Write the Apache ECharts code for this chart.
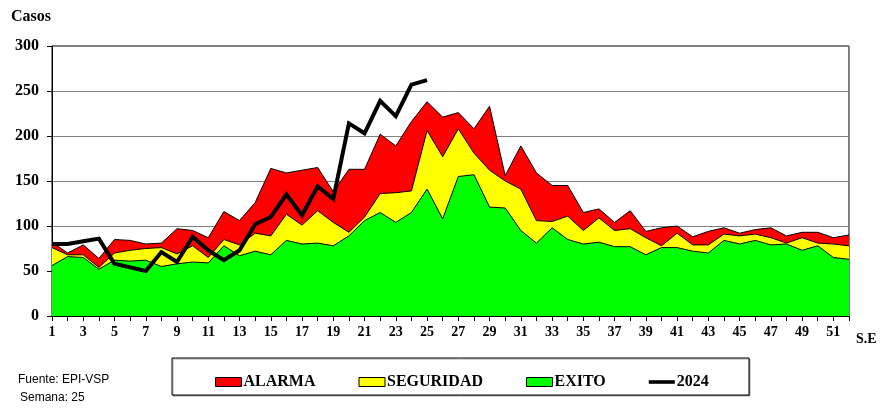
<!DOCTYPE html>
<html>
<head>
<meta charset="utf-8">
<title>Canal endémico</title>
<script src="https://cdn.jsdelivr.net/npm/echarts@6/dist/echarts.min.js"></script>
<style>
    html, body { margin: 0; padding: 0; background: #fff; }
    #chart { width: 884px; height: 410px; }
</style>
</head>
<body>
<div id="chart"></div>
<script>
// semanas epidemiologicas 1..52
var semanas = [];
for (var i = 1; i <= 52; i++) semanas.push(String(i));

// limites del canal endemico (valores acumulados)
var exito = [56, 66, 65, 52, 62, 61, 62, 55, 58, 60,
    59, 78, 67, 72, 68, 84, 80, 81, 78, 89,
    106, 115, 104, 115, 141, 108, 155, 157, 121, 120,
    95, 81, 98, 85, 80, 82, 77, 77, 68, 76,
    76, 72, 70, 84, 80, 84, 79, 80, 73, 78,
    65, 63];
var seguridad = [76, 68, 68, 54, 70, 73, 75, 76, 69, 78,
    65, 85, 79, 92, 89, 113, 101, 117, 104, 93,
    110, 136, 137, 139, 206, 177, 208, 181, 162, 150,
    141, 106, 105, 111, 95, 109, 95, 97, 87, 78,
    92, 79, 79, 91, 89, 91, 87, 81, 87, 81,
    80, 78];
var alarma = [82, 70, 79, 64, 85, 84, 80, 81, 97, 95,
    87, 116, 106, 126, 164, 159, 162, 165, 138, 163,
    163, 202, 189, 216, 238, 221, 226, 208, 233, 156,
    189, 159, 145, 145, 115, 119, 104, 117, 94, 98,
    100, 88, 94, 98, 92, 96, 98, 89, 93, 93,
    87, 90];
// casos 2024 hasta la semana 25
var casos2024 = [80, 80, 83, 86, 58, 54, 50, 71, 60, 88,
    73, 62, 73, 102, 110, 135, 112, 144, 130, 214,
    203, 239, 222, 257, 262];

var serif = '"Liberation Serif", "DejaVu Serif", serif';
var sans = '"Liberation Sans", Arial, sans-serif';

function zona(nombre, color, datos) {
    return {
        name: nombre,
        type: 'line',
        data: datos,
        color: color,
        symbol: 'none',
        lineStyle: { color: '#000', width: 1 },
        areaStyle: { color: color, opacity: 1, origin: 'start' },
        itemStyle: { color: color },
        silent: true
    };
}

var bordeLeyenda = { borderColor: '#000', borderWidth: 1 };

var chart = echarts.init(document.getElementById('chart'));
chart.setOption({
    animation: false,
    backgroundColor: '#fff',
    title: {
        text: 'Casos',
        left: 6,
        top: 4,
        textStyle: { fontFamily: serif, fontWeight: 'bold', fontSize: 16, color: '#000' }
    },
    grid: {
        left: 52, right: 35, top: 46, bottom: 94,
        show: true, borderColor: '#000', borderWidth: 1
    },
    legend: {
        left: 210,
        top: 369,
        itemWidth: 26,
        itemHeight: 9,
        itemGap: 43,
        textStyle: { fontFamily: serif, fontWeight: 'bold', fontSize: 16, color: '#000', padding: [0, 0, 0, -3] },
        data: [
            { name: 'ALARMA', icon: 'rect', itemStyle: bordeLeyenda },
            { name: 'SEGURIDAD', icon: 'rect', itemStyle: bordeLeyenda },
            { name: 'EXITO', icon: 'rect', itemStyle: bordeLeyenda },
            { name: '2024', icon: 'path://M0,0 L29,0 L29,4 L0,4 Z', itemStyle: { color: '#000', borderWidth: 0 } }
        ]
    },
    xAxis: {
        type: 'category',
        data: semanas,
        boundaryGap: false,
        axisLine: { lineStyle: { color: '#000', width: 1 } },
        axisTick: { interval: 0, length: 5, lineStyle: { color: '#000' } },
        axisLabel: {
            interval: 1,
            margin: 9,
            fontFamily: serif,
            fontWeight: 'bold',
            fontSize: 14,
            color: '#000'
        },
        splitLine: { show: false }
    },
    yAxis: {
        type: 'value',
        min: 0,
        max: 300,
        interval: 50,
        axisLine: { show: true, lineStyle: { color: '#000', width: 1 } },
        axisTick: { show: true, length: 5, lineStyle: { color: '#000' } },
        axisLabel: {
            margin: 13,
            fontFamily: serif,
            fontWeight: 'bold',
            fontSize: 16,
            color: '#000'
        },
        splitLine: { lineStyle: { color: '#808080', width: 1 } }
    },
    series: [
        zona('ALARMA', '#ff0000', alarma),
        zona('SEGURIDAD', '#ffff00', seguridad),
        zona('EXITO', '#00ff00', exito),
        {
            name: '2024',
            type: 'line',
            data: casos2024,
            color: '#000',
            symbol: 'none',
            showSymbol: false,
            lineStyle: { color: '#000', width: 4, join: 'miter' },
            itemStyle: { color: '#000' },
            z: 5
        }
    ],
    graphic: [
        {
            type: 'rect',
            shape: { x: 172, y: 358, width: 577, height: 37 },
            style: {
                fill: '#fff', stroke: '#000', lineWidth: 1,
                shadowColor: 'rgba(0,0,0,0.35)', shadowOffsetX: 1, shadowOffsetY: 1, shadowBlur: 0
            },
            z: -1
        },
        {
            type: 'text',
            left: 856,
            top: 332,
            style: { text: 'S.E', fontFamily: serif, fontWeight: 'bold', fontSize: 14, fill: '#000' }
        },
        {
            type: 'text',
            left: 18,
            top: 374,
            style: { text: 'Fuente: EPI-VSP', fontFamily: sans, fontSize: 12, fill: '#000' }
        },
        {
            type: 'text',
            left: 20,
            top: 392,
            style: { text: 'Semana: 25', fontFamily: sans, fontSize: 12, fill: '#000' }
        }
    ]
});
</script>
</body>
</html>
